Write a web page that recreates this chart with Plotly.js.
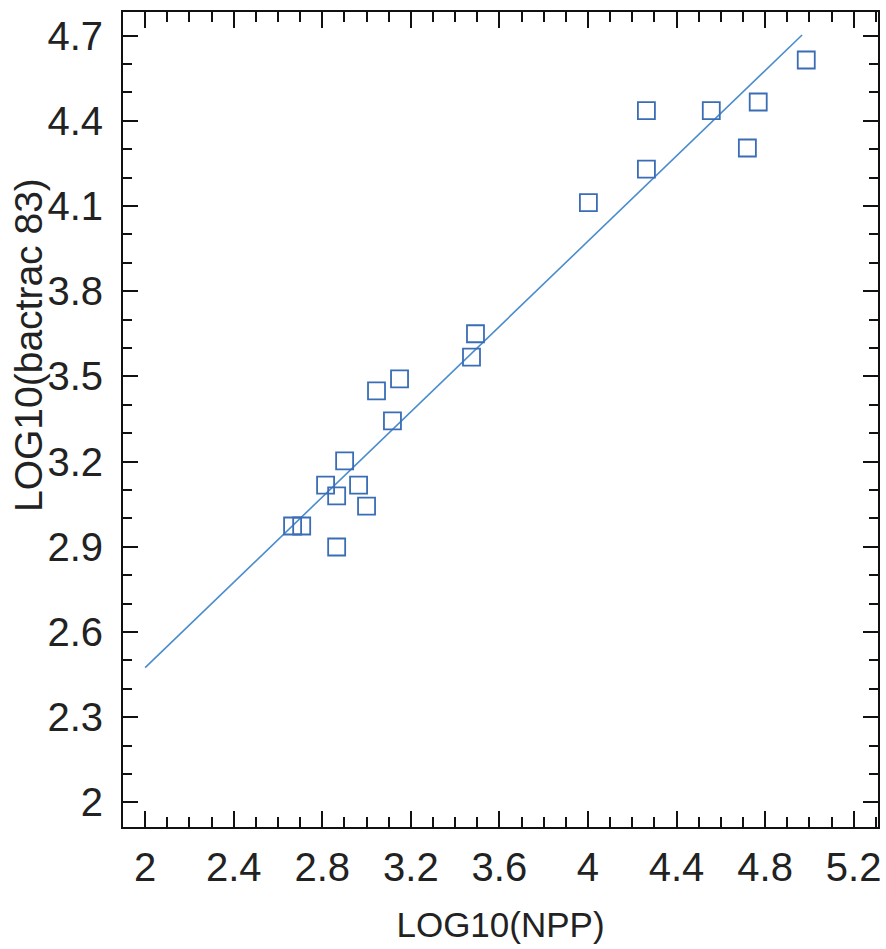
<!DOCTYPE html>
<html>
<head>
<meta charset="utf-8">
<script src="https://cdn.plot.ly/plotly-3.0.1.min.js"></script>
<style>html,body{margin:0;padding:0;background:#fff;}#chart{width:886px;height:949px;}</style>
</head>
<body>
<div id="chart"></div>
<script>
// Observed points
var npp = [4.986, 4.264, 4.557, 4.769, 4.720, 4.264, 4.002, 3.492, 3.474, 3.149, 3.045, 3.117, 2.901, 2.815, 2.964, 2.865, 3.000, 2.666, 2.707, 2.865];
var bactrac = [4.614, 4.436, 4.436, 4.466, 4.304, 4.230, 4.112, 3.650, 3.568, 3.491, 3.449, 3.343, 3.202, 3.117, 3.117, 3.079, 3.043, 2.973, 2.973, 2.899];
// Fitted line end points
var fitX = [2.0, 4.967];
var fitY = [2.474, 4.702];

var xTitle = "LOG10(NPP)";
var yTitle = "LOG10(bactrac 83)";

var tickFont = {family: "Liberation Sans, Arial, sans-serif", size: 40, color: "#222"};
var xTitleFont = {family: "Liberation Sans, Arial, sans-serif", size: 35, color: "#222"};
var yTitleFont = {family: "Liberation Sans, Arial, sans-serif", size: 39, color: "#222"};

var traces = [
  {x: fitX, y: fitY, mode: "lines", type: "scatter",
   line: {color: "#4a8ccc", width: 1.6}, hoverinfo: "skip"},
  {x: npp, y: bactrac, mode: "markers", type: "scatter",
   marker: {symbol: "square-open", size: 17, color: "#3a6db5", line: {width: 1.8, color: "#3a6db5"}}}
];

var layout = {
  width: 886, height: 949,
  margin: {l: 123, r: 8, t: 12, b: 122},
  paper_bgcolor: "#fff", plot_bgcolor: "#fff",
  showlegend: false,
  xaxis: {
    range: [1.9, 5.31], tick0: 2, dtick: 0.4, tickmode: "linear",
    showgrid: false, zeroline: false,
    showline: true, linecolor: "#111", linewidth: 2, mirror: "ticks",
    ticks: "inside", ticklen: 16, tickwidth: 2, tickcolor: "#111",
    minor: {dtick: 0.1, tick0: 2, ticks: "inside", ticklen: 10, tickwidth: 2, tickcolor: "#111", showgrid: false},
    tickfont: tickFont, ticklabelstandoff: 4,
    title: {text: xTitle, font: xTitleFont, standoff: 24}
  },
  yaxis: {
    range: [1.913, 4.783], tick0: 2, dtick: 0.3, tickmode: "linear",
    showgrid: false, zeroline: false,
    showline: true, linecolor: "#111", linewidth: 2, mirror: "ticks",
    ticks: "inside", ticklen: 15, tickwidth: 2, tickcolor: "#111",
    minor: {dtick: 0.1, tick0: 2, ticks: "inside", ticklen: 9, tickwidth: 2, tickcolor: "#111", showgrid: false},
    tickfont: tickFont, ticklabelstandoff: 10
  },
  annotations: [{
    text: yTitle, xref: "paper", yref: "paper", x: 0, y: 0.5914,
    xanchor: "center", yanchor: "middle", xshift: -95, textangle: -90,
    showarrow: false, font: yTitleFont
  }]
};

Plotly.newPlot("chart", traces, layout, {staticPlot: true, displayModeBar: false});
</script>
</body>
</html>
